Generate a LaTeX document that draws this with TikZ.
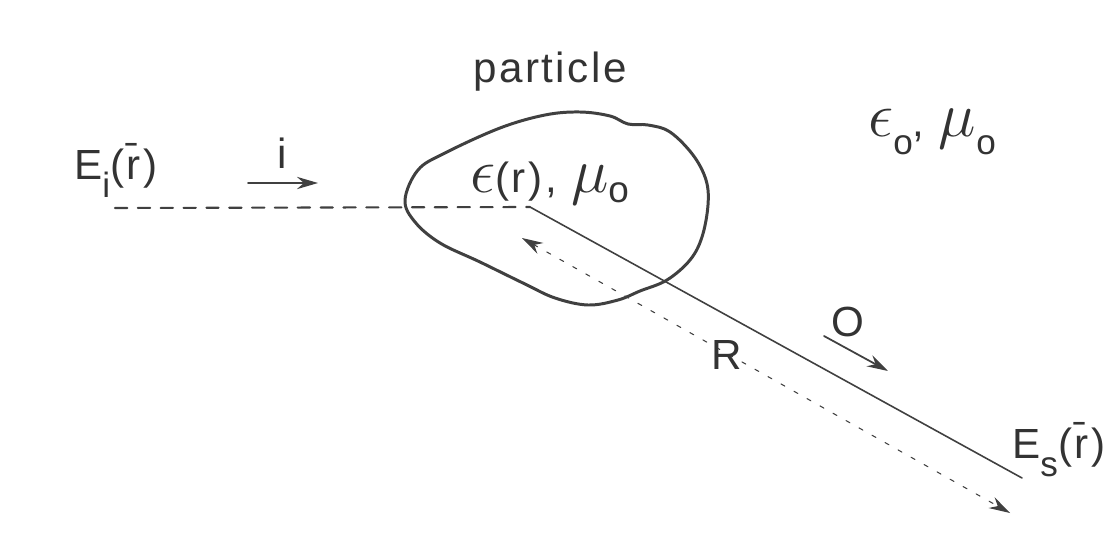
\documentclass[tikz,border=0pt]{standalone}
\usepackage{fontspec}
\setmainfont{Liberation Sans}[LetterSpace=6]
\usetikzlibrary{arrows.meta}
\newcommand{\subl}[1]{\raisebox{-0.45em}{\fontsize{20}{22}\selectfont #1}}
\newcommand{\subo}[1]{\raisebox{-0.25em}{\fontsize{21}{23}\selectfont #1}}
\newcommand{\eps}{\scalebox{1.45}{$\epsilon$}}
\newcommand{\mub}{\scalebox{1.45}{$\mu$}}
\tikzset{
  lbl/.style={font=\fontsize{24}{28}\selectfont, inner sep=0pt, text=black!80},
  ink/.style={draw=black!75, line cap=round},
  tip/.style={-{Stealth[length=12pt,width=7pt,inset=4pt]}}
}
\begin{document}
\begin{tikzpicture}[x=0.02cm, y=-0.02cm]
\useasboundingbox[fill=white] (0,0) rectangle (1116,541);

% the particle
\draw[ink, line width=1.7pt] plot[smooth cycle, tension=0.6] coordinates {
  (405,200) (418,170) (445,153) (500,128) (545,115) (580,112) (610,116)
  (628,124) (648,125) (670,132) (693,155) (706,180) (708,205) (702,237)
  (690,260) (667,280) (640,291) (618,300) (588,305) (555,298) (525,284)
  (480,262) (440,243) (415,222)};

% incident and scattered lines
\coordinate (inc) at (115,208);
\coordinate (org) at (530,207);
\coordinate (scat) at (1022,478);
\draw[ink, line width=1.2pt, dash pattern=on 7pt off 6pt] (inc) -- (org);
\draw[ink, line width=0.9pt] (org) -- (scat);

% R
\coordinate (Rbeg) at (522,238);
\coordinate (Rend) at (1010,513);
\draw[ink, line width=0.6pt, dash pattern=on 2.5pt off 6pt,
  {Stealth[length=12pt,width=7pt,inset=4pt]}-{Stealth[length=12pt,width=7pt,inset=4pt]}] (Rbeg) -- (Rend);

% direction arrows
\coordinate (ia) at (248,183);
\coordinate (ib) at (318,183);
\draw[ink, line width=1pt, tip] (ia) -- (ib);
\coordinate (oa) at (824,336);
\coordinate (ob) at (888,371);
\draw[ink, line width=1pt, tip] (oa) -- (ob);

% labels
\node[lbl] (particle) at (550,72) {particle};
\node[lbl, anchor=base west] (outside) at (868,136) {\eps\subl{o}, \mub\subl{o}};
\node[lbl, anchor=base west] (inside) at (470,192) {\eps(r), \mub\subo{o}};
\node[lbl, anchor=base west] (Ei) at (74,179) {E\subl{i}(\=r)};
\node[lbl] (ilbl) at (282,153) {i};
\node[lbl] (olbl) at (848,322) {O};
\node[lbl] (Rlbl) at (727,355) {R};
\node[lbl, anchor=base west] (Es) at (1012,458) {E\subl{s}(\=r)};
\end{tikzpicture}
\end{document}
